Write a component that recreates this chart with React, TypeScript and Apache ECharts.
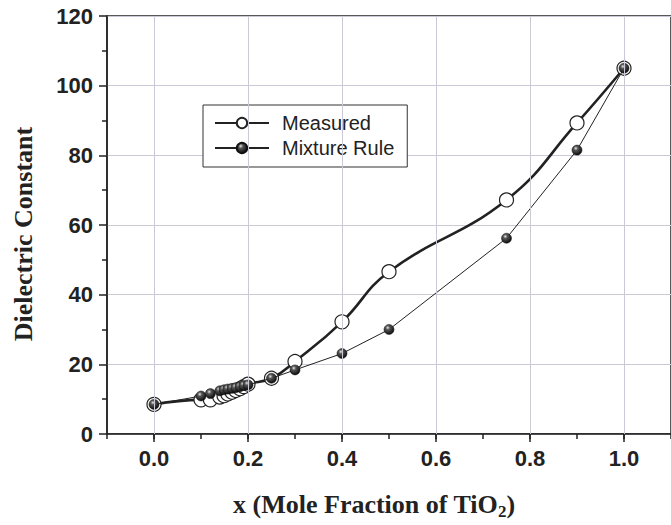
import React, { useEffect, useRef } from 'react';
import * as echarts from 'echarts';

// Mole fraction of TiO2 (x) for each measured composition
const xValues = [0, 0.1, 0.12, 0.14, 0.149, 0.157, 0.166, 0.174, 0.183, 0.191, 0.2, 0.25, 0.3, 0.4, 0.5, 0.75, 0.9, 1.0];
// Dielectric constant, measured
const measuredValues = [8.5, 9.8, 9.8, 10.6, 11.0, 11.5, 12.0, 12.5, 13.0, 13.6, 14.3, 16.0, 20.8, 32.2, 46.6, 67.2, 89.3, 105.0];
// Dielectric constant, mixture rule
const mixtureValues = [8.5, 10.9, 11.6, 12.4, 12.7, 12.9, 13.1, 13.3, 13.6, 13.9, 14.1, 16.0, 18.4, 23.1, 30.0, 56.2, 81.5, 105.0];
// Major x ticks (labelled)
const xTicks = [0, 0.2, 0.4, 0.6, 0.8, 1.0];
const seriesNames = ['Measured', 'Mixture Rule'];

const SANS = 'Liberation Sans, Arial, sans-serif';
const SERIF = 'Liberation Serif, Times New Roman, serif';
const INK = '#222';
const GRID = '#c9cad6';

export default function App() {
  const ref = useRef<HTMLDivElement>(null);

  useEffect(() => {
    document.body.style.margin = '0';
    if (!ref.current) return;
    const chart = echarts.init(ref.current, null, { renderer: 'svg' });

    const sphere = new echarts.graphic.RadialGradient(0.38, 0.32, 0.7, [
      { offset: 0, color: '#e8e8e8' },
      { offset: 0.3, color: '#555' },
      { offset: 1, color: '#0a0a0a' },
    ]);

    const option: any = {
      animation: false,
      backgroundColor: '#fff',
      grid: {
        left: 107,
        right: -3,
        top: 16,
        bottom: 89,
        show: true,
        borderColor: INK,
        borderWidth: 1.5,
        backgroundColor: 'transparent',
      },
      legend: {
        left: 203,
        top: 105,
        orient: 'vertical',
        itemWidth: 54,
        itemHeight: 13,
        itemGap: 5,
        padding: [8, 13, 9, 11],
        borderColor: '#333',
        borderWidth: 1,
        backgroundColor: '#fff',
        data: seriesNames,
        textStyle: {
          fontFamily: SANS,
          fontSize: 20,
          color: INK,
          lineHeight: 20,
          padding: [0, 0, 0, 8],
        },
      },
      xAxis: [
        {
          type: 'value',
          min: -0.1,
          max: 1.1,
          position: 'bottom',
          axisLine: { show: true, onZero: false, lineStyle: { color: INK, width: 1.5 } },
          axisTick: { show: true, customValues: xTicks, length: 8, lineStyle: { color: INK, width: 1.5 } },
          axisLabel: {
            show: true,
            customValues: xTicks,
            formatter: (v: number) => v.toFixed(1),
            fontFamily: SANS,
            fontWeight: 'bold',
            fontSize: 22,
            color: INK,
            margin: 13,
          },
          splitLine: { show: false },
          name: '{a|x (Mole Fraction of TiO}{s|2}{a|)}',
          nameLocation: 'middle',
          nameGap: 54,
          nameTextStyle: {
            padding: [0, 30, 0, 0],
            rich: {
              a: { fontFamily: SERIF, fontWeight: 'bold', fontSize: 26, color: INK, lineHeight: 32 },
              s: { fontFamily: SERIF, fontWeight: 'bold', fontSize: 17, color: INK, lineHeight: 17, verticalAlign: 'bottom' },
            },
          },
        },
        {
          type: 'value',
          min: -0.1,
          max: 1.1,
          interval: 0.1,
          position: 'bottom',
          axisLine: { show: false, onZero: false },
          axisTick: { show: true, length: 5, lineStyle: { color: INK, width: 1.5 } },
          axisLabel: { show: false },
          splitLine: { show: false },
        },
      ],
      yAxis: {
        type: 'value',
        min: 0,
        max: 120,
        interval: 20,
        axisLine: { show: true, onZero: false, lineStyle: { color: INK, width: 1.5 } },
        axisTick: { show: true, length: 8, lineStyle: { color: INK, width: 1.5 } },
        minorTick: { show: true, splitNumber: 2, length: 5, lineStyle: { color: INK, width: 1.5 } },
        axisLabel: {
          fontFamily: SANS,
          fontWeight: 'bold',
          fontSize: 22,
          color: INK,
          margin: 14,
        },
        splitLine: { show: true, lineStyle: { color: GRID, width: 1 } },
        name: 'Dielectric Constant',
        nameLocation: 'middle',
        nameRotate: 90,
        nameGap: 71,
        nameTextStyle: {
          fontFamily: SERIF,
          fontWeight: 'bold',
          fontSize: 26,
          color: INK,
          padding: [0, 18, 0, 0],
        },
      },
      series: [
        {
          name: 'gridlines',
          type: 'line',
          data: [],
          z: 0,
          silent: true,
          markLine: {
            silent: true,
            symbol: ['none', 'none'],
            label: { show: false },
            lineStyle: { color: GRID, width: 1, type: 'solid' },
            data: xTicks.map((v) => ({ xAxis: v })),
          },
        },
        {
          name: seriesNames[0],
          type: 'line',
          smooth: 0.45,
          data: xValues.map((x, i) => [x, measuredValues[i]]),
          symbol: 'circle',
          symbolSize: 14,
          lineStyle: { color: INK, width: 2.6 },
          itemStyle: { color: '#fff', borderColor: INK, borderWidth: 1.2 },
          z: 3,
        },
        {
          name: seriesNames[1],
          type: 'line',
          data: xValues.map((x, i) => [x, mixtureValues[i]]),
          symbol: 'circle',
          symbolSize: 10,
          lineStyle: { color: INK, width: 1 },
          itemStyle: { color: sphere, borderColor: '#111', borderWidth: 0.5 },
          z: 4,
        },
      ],
    };

    chart.setOption(option);
    return () => chart.dispose();
  }, []);

  return <div ref={ref} style={{ width: 671, height: 525, position: 'absolute', left: 0, top: 0 }} />;
}
